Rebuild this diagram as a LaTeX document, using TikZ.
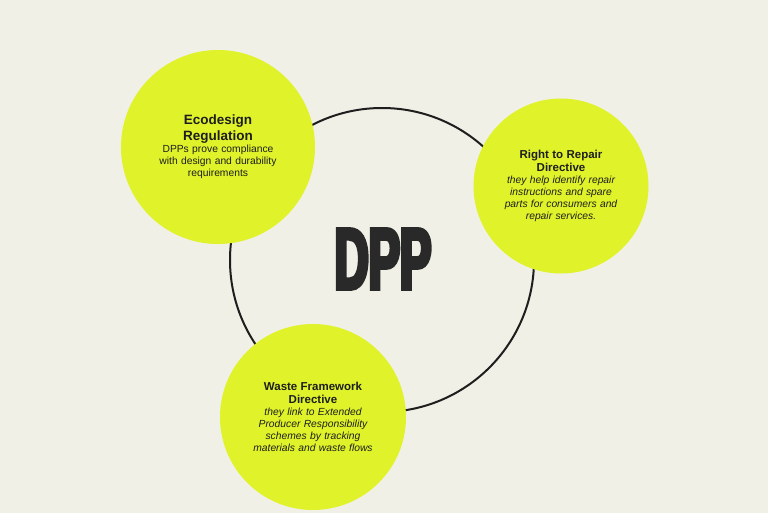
\documentclass[tikz,border=0pt]{standalone}
\usepackage{fontspec}
\setmainfont{Liberation Sans}
\newfontfamily\dppfont[FakeBold=4.5, FakeStretch=0.54]{Liberation Sans}
\usepackage{xcolor}
\usepackage{tikz}
\usetikzlibrary{positioning}

\definecolor{paper}{RGB}{241,240,230}
\definecolor{lime}{RGB}{223,242,42}
\definecolor{ink}{RGB}{30,30,30}

\begin{document}
\begin{tikzpicture}[x=1pt, y=-1pt,
    topic/.style={circle, fill=lime, inner sep=0pt, align=center, text=ink}]
        \fill[paper] (0,0) rectangle (768,513);
        \useasboundingbox (0,0) rectangle (768,513);

        % Ring
        \node[circle, draw=ink, line width=2pt, minimum size=304pt, inner sep=0pt] (ring) at (382, 260) {};
        \node[text=ink!95, inner sep=0pt] (dpp) at (383, 259) {\dppfont\bfseries\fontsize{87}{87}\selectfont DPP};

        % Topics
        \node[topic, minimum size=194pt, text width=130pt] (eco) at (218, 147) {{\fontsize{13.5}{16.5}\selectfont\bfseries Ecodesign\\[2pt]Regulation}\\{\fontsize{10.3}{12}\selectfont DPPs prove compliance\\with design and durability\\requirements}};
        \node[topic, minimum size=175pt, text width=125pt] (repair) at (561, 186) {{\fontsize{11.5}{14}\selectfont\bfseries Right to Repair\\[1pt]Directive}\\{\fontsize{10.3}{12.2}\selectfont\itshape they help identify repair\\instructions and spare\\parts for consumers and\\repair services.}};
        \node[topic, minimum size=186pt, text width=130pt] (waste) at (313, 417) {{\fontsize{11.5}{14}\selectfont\bfseries Waste Framework\\[1pt]Directive}\\{\fontsize{10.3}{12.2}\selectfont\itshape they link to Extended\\Producer Responsibility\\schemes by tracking\\materials and waste flows}};
    \end{tikzpicture}
\end{document}
